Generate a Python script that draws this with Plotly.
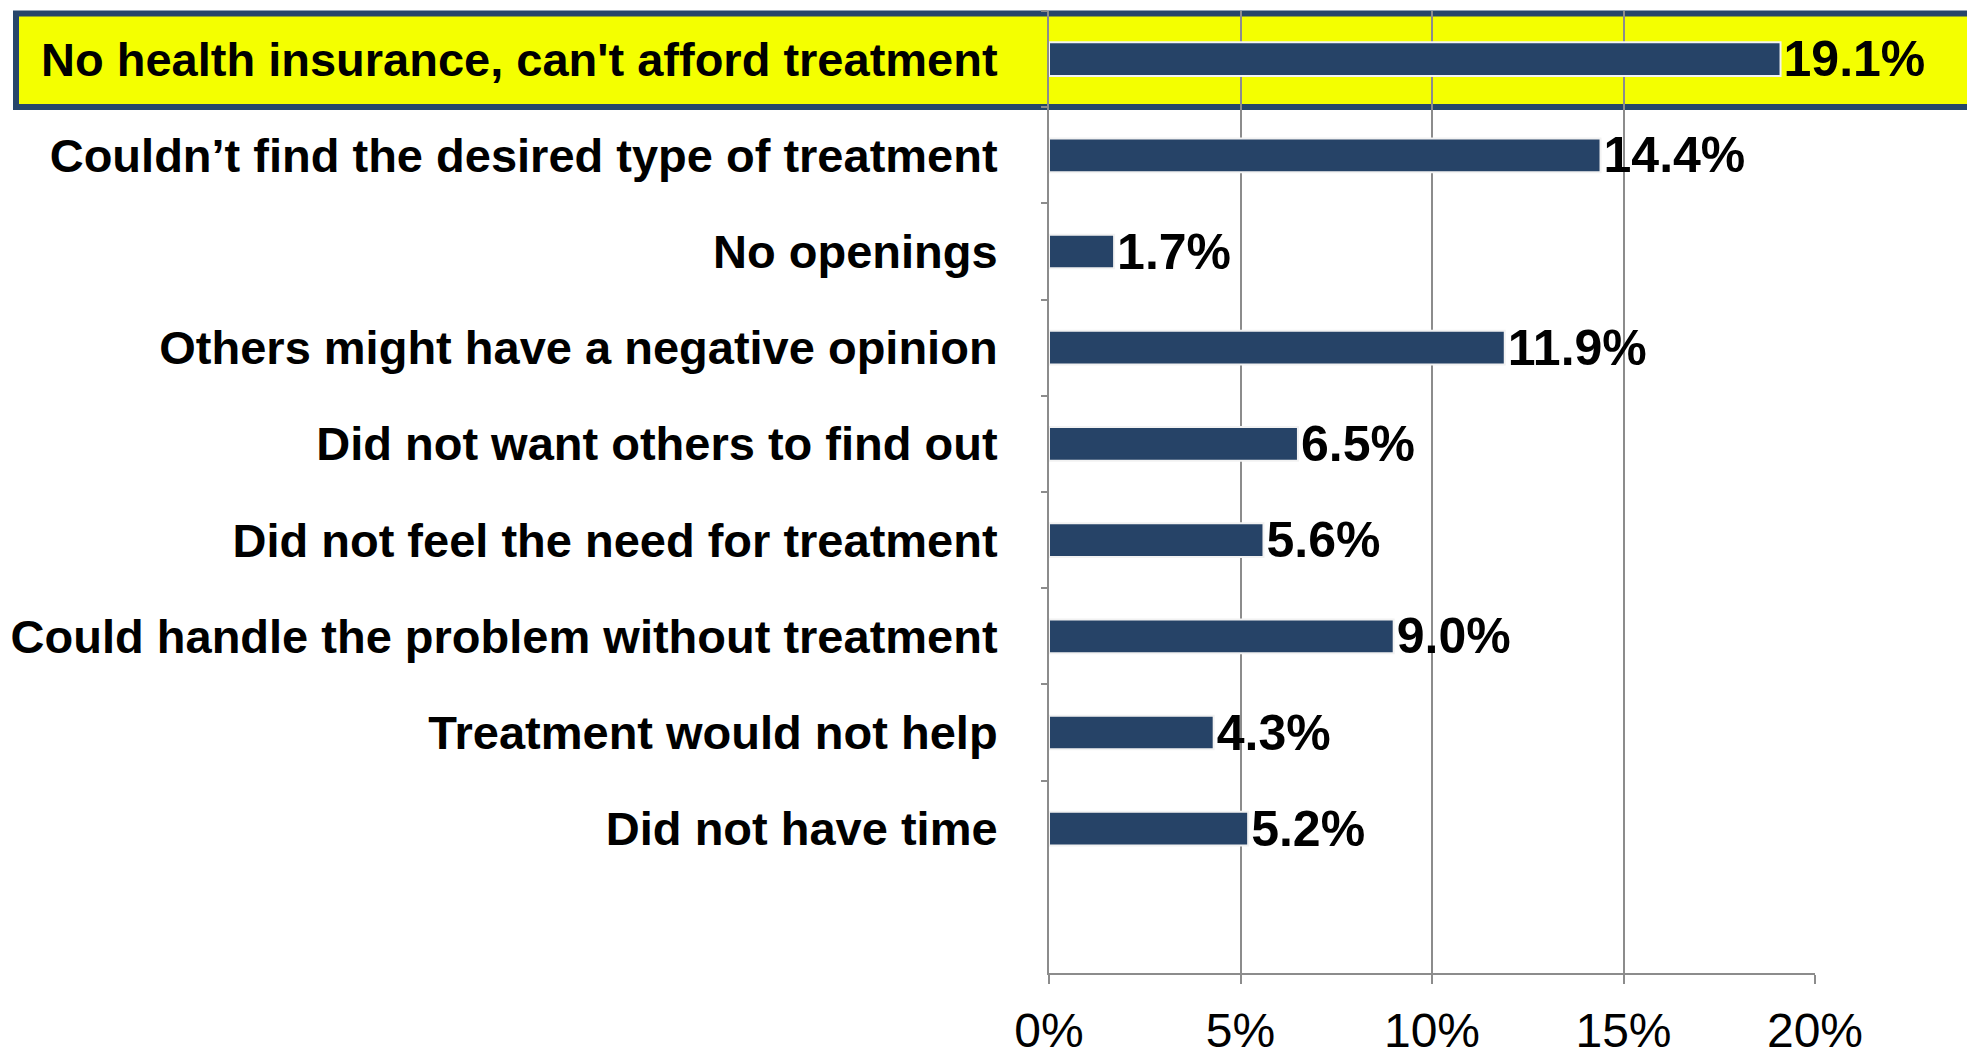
import plotly.graph_objects as go

categories = [
    "No health insurance, can't afford treatment",
    "Couldn’t find the desired type of treatment",
    "No openings",
    "Others might have a negative opinion",
    "Did not want others to find out",
    "Did not feel the need for treatment",
    "Could handle the problem without treatment",
    "Treatment would not help",
    "Did not have time",
]
values = [19.1, 14.4, 1.7, 11.9, 6.5, 5.6, 9.0, 4.3, 5.2]
x_ticks = [0, 5, 10, 15, 20]
x_tick_labels = ["0%", "5%", "10%", "15%", "20%"]

W, H = 1967, 1057
L, R, T, B = 1049, 152, 11, 84
plot_h = H - T - B
plot_w = W - L - R

fig = go.Figure()
fig.add_trace(go.Bar(
    x=values, y=categories, orientation="h",
    marker=dict(color="#264367", line=dict(color="#f2f2f2", width=2)),
    width=0.35,
    text=values, texttemplate="%{x:.1f}%", textposition="outside",
    textfont=dict(family="Liberation Sans, Arial", size=50, color="black", weight="bold"),
    constraintext="none", cliponaxis=False,
))

def py(px):
    return (H - B - px) / plot_h

def pxx(px):
    return (px - L) / plot_w

fig.add_shape(type="rect", xref="paper", yref="paper",
              x0=pxx(16), x1=pxx(1990), y0=py(107), y1=py(13.5),
              fillcolor="#f4ff00", line=dict(color="#27466a", width=6), layer="below")

fig.update_layout(
    width=W, height=H,
    margin=dict(l=L, r=R, t=T, b=B, autoexpand=False),
    paper_bgcolor="white", plot_bgcolor="rgba(0,0,0,0)",
    showlegend=False,
)
fig.update_xaxes(
    range=[0, 20], tickvals=x_ticks, ticktext=x_tick_labels,
    showgrid=True, gridcolor="#8c8c8c", gridwidth=2,
    showline=True, linecolor="#8c8c8c", linewidth=2,
    ticks="outside", ticklen=9, tickcolor="#8c8c8c", tickwidth=2,
    tickfont=dict(family="Liberation Sans, Arial", size=48, color="black"),
    ticklabelstandoff=5, zeroline=False, automargin=False,
)
fig.update_yaxes(
    categoryorder="array", categoryarray=categories,
    range=[9.5, -0.5],
    showline=True, linecolor="#8c8c8c", linewidth=2,
    ticks="outside", ticklen=6, tickcolor="#8c8c8c", tickwidth=2, tickson="boundaries",
    tickfont=dict(family="Liberation Sans, Arial", size=47, color="black", weight="bold"),
    ticklabelstandoff=40, showgrid=False, automargin=False,
)

fig.write_html("out.html", config={"displayModeBar": False},
               post_script="document.body.style.margin='0';document.body.style.overflow='hidden';")
